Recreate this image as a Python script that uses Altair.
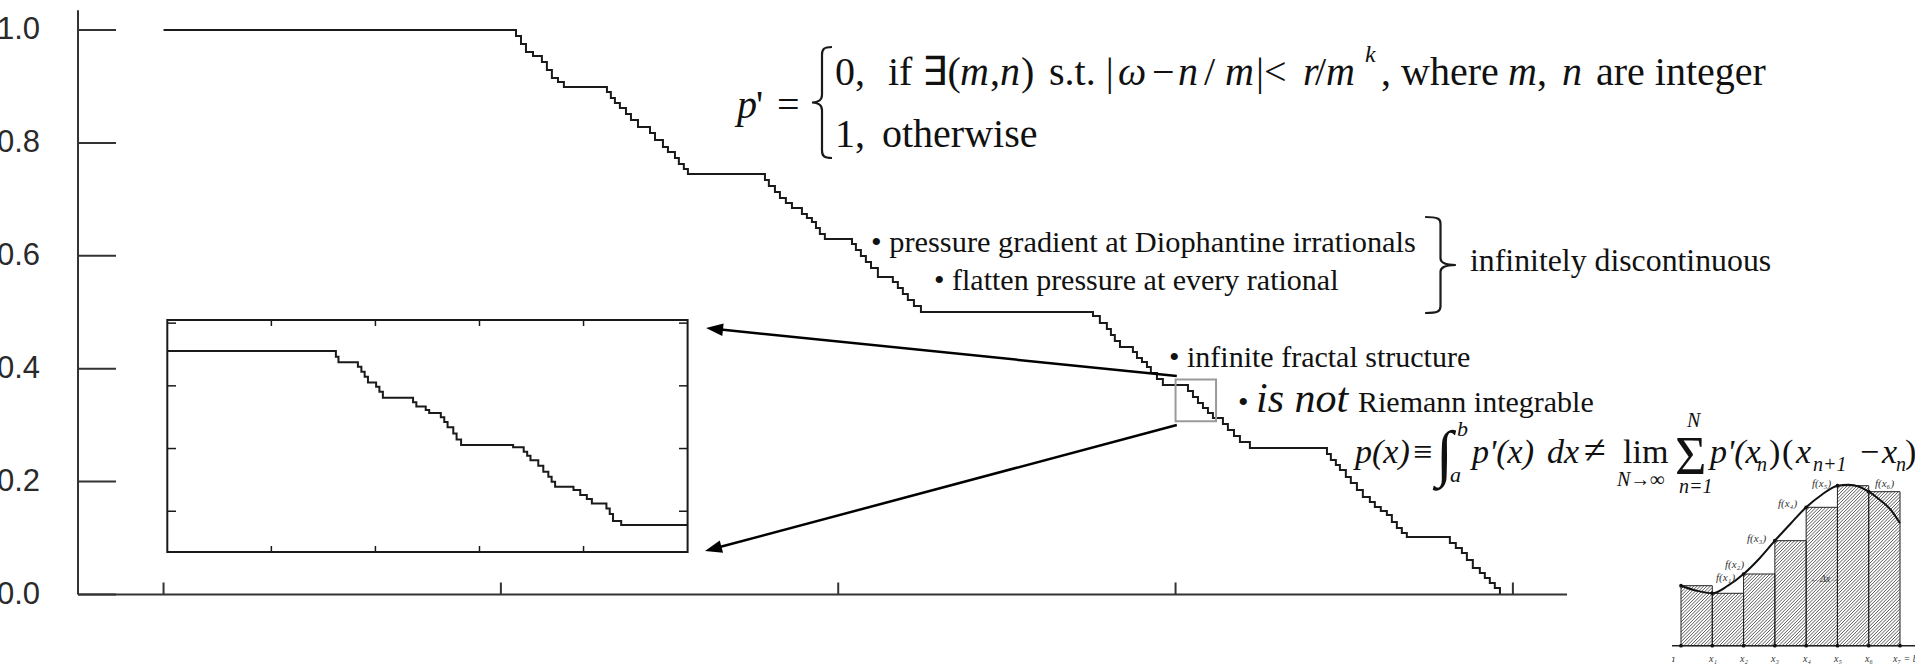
import altair as alt
import pandas as pd

SERIF = "Liberation Serif"
SANS = "Liberation Sans"
INK = "#1a1a1a"

# ---------------- main staircase p(x) (level starting at each x) ----------------
step_x = [0.0, 0.2612, 0.2649, 0.2686, 0.2738, 0.2804, 0.2841, 0.2878, 0.2923, 0.2967,
          0.3286, 0.3315, 0.3345, 0.3382, 0.3427, 0.3464, 0.3516, 0.3605, 0.3642, 0.3701,
          0.3738, 0.3790, 0.3819, 0.3856, 0.3886,
          0.4457, 0.4486, 0.4531, 0.4568, 0.4612, 0.4657, 0.4731, 0.4768, 0.4805, 0.4835,
          0.4864, 0.4901,
          0.5102, 0.5131, 0.5168, 0.5205, 0.5243, 0.5294,
          0.5405, 0.5442, 0.5479, 0.5516, 0.5561, 0.5613,
          0.6888, 0.6939, 0.6991, 0.7021, 0.7050, 0.7088, 0.7184, 0.7214, 0.7251, 0.7288,
          0.7317, 0.7362, 0.7406,
          0.7592, 0.7629, 0.7666, 0.7703, 0.7740, 0.7777, 0.7851, 0.7888, 0.7933, 0.7977,
          0.8051,
          0.8622, 0.8651, 0.8688, 0.8718, 0.8762, 0.8799, 0.8844, 0.8888, 0.8940, 0.8977,
          0.9021, 0.9066, 0.9103, 0.9140, 0.9177, 0.9214,
          0.9533, 0.9577, 0.9622, 0.9659, 0.9703, 0.9755, 0.9792, 0.9829, 0.9866, 0.9904]
step_p = [1.0, 0.9894, 0.9752, 0.9610, 0.9539, 0.9433, 0.9292, 0.9150, 0.9079, 0.8990,
          0.8902, 0.8795, 0.8707, 0.8618, 0.8512, 0.8406, 0.8282, 0.8176, 0.8051, 0.7927,
          0.7839, 0.7732, 0.7626, 0.7538, 0.7449,
          0.7343, 0.7237, 0.7130, 0.7024, 0.6936, 0.6847, 0.6741, 0.6670, 0.6599, 0.6493,
          0.6386, 0.6298,
          0.6209, 0.6103, 0.5997, 0.5890, 0.5784, 0.5624,
          0.5536, 0.5429, 0.5323, 0.5217, 0.5111, 0.5004,
          0.4934, 0.4810, 0.4703, 0.4597, 0.4491, 0.4384, 0.4296, 0.4190, 0.4119, 0.4030,
          0.3924, 0.3818, 0.3711,
          0.3605, 0.3499, 0.3392, 0.3304, 0.3215, 0.3127, 0.3020, 0.2914, 0.2808, 0.2702,
          0.2595,
          0.2489, 0.2383, 0.2294, 0.2206, 0.2081, 0.1975, 0.1851, 0.1727, 0.1639, 0.1550,
          0.1479, 0.1408, 0.1284, 0.1178, 0.1089, 0.1019,
          0.0912, 0.0823, 0.0735, 0.0611, 0.0469, 0.0381, 0.0292, 0.0204, 0.0115, 0.0]

# ---------------- magnified section of the staircase ----------------
inset_x = [0.7500, 0.75972, 0.75987, 0.76099, 0.76119, 0.76138, 0.76157, 0.76204, 0.76223, 0.76243,
           0.76417, 0.76436, 0.76490, 0.76510, 0.76577, 0.76597, 0.76616, 0.76649, 0.76668, 0.76694,
           0.76994, 0.77055, 0.77075, 0.77094, 0.77139, 0.77168, 0.77197, 0.77216, 0.77236, 0.77342,
           0.77381, 0.77419, 0.77448, 0.77532, 0.77551, 0.77570, 0.77617, 0.7800]
inset_p = [0.3711, 0.3693, 0.3675, 0.3661, 0.3645, 0.3629, 0.3611, 0.3597, 0.3581, 0.3562,
           0.3548, 0.3534, 0.3523, 0.3513, 0.3500, 0.3485, 0.3468, 0.3448, 0.3429, 0.3411,
           0.3404, 0.3390, 0.3377, 0.3363, 0.3345, 0.3326, 0.3310, 0.3294, 0.3278, 0.3268,
           0.3252, 0.3239, 0.3225, 0.3209, 0.3191, 0.3169, 0.3156, 0.3156]

# axis ticks
y_ticks = [0.0, 0.2, 0.4, 0.6, 0.8, 1.0]
x_ticks = [0.0, 0.25, 0.5, 0.75, 1.0]
inset_x_ticks = [0.756, 0.762, 0.768, 0.774]
inset_y_ticks = [0.32, 0.34, 0.36, 0.38]

# window that the inset magnifies
zoom_x = [0.750, 0.780]
zoom_p = [0.307, 0.381]

# ---------------- Riemann-sum sketch ----------------
riemann_edges = [0, 1, 2, 3, 4, 5, 6, 7]
riemann_f = [3.0, 2.62, 3.585, 5.25, 6.92, 8.0, 7.70]
curve_x = [0, 0.5, 1.0, 1.5, 2.0, 2.5, 3.0, 3.5, 4.0, 4.5, 5.0, 5.35, 5.7, 6.0, 6.35, 6.7, 7.0]
curve_f = [3.0, 2.75, 2.62, 3.0, 3.585, 4.35, 5.25, 6.1, 6.92, 7.55, 8.0, 8.05, 7.95, 7.70, 7.3, 6.8, 6.12]

# ---------------- scales ----------------
X_LO, X_HI, P_TOP = -0.0634, 1.0401, 1.035
xs = alt.Scale(domain=[X_LO, X_HI], range=[78, 1567], nice=False, zero=False)
ys = alt.Scale(domain=[0, P_TOP], range=[594.5, 10.3], nice=False, zero=False)
xi = alt.Scale(domain=zoom_x, range=[167.3, 687.6], nice=False, zero=False)
yi = alt.Scale(domain=zoom_p, range=[552, 320], nice=False, zero=False)
RX0, RX1, RY0, RY1 = 1681, 1900, 645.7, 445.7
rx = alt.Scale(domain=[0, 7], range=[RX0, RX1], nice=False, zero=False)
ry = alt.Scale(domain=[0, 10], range=[RY0, RY1], nice=False, zero=False)


def X(f, s):
    return alt.X(f, type="quantitative", scale=s, axis=None)


def Y(f, s):
    return alt.Y(f, type="quantitative", scale=s, axis=None)


def PX(f):
    return alt.X(f, type="quantitative", scale=None, axis=None)


def PY(f):
    return alt.Y(f, type="quantitative", scale=None, axis=None)


layers = []

# staircase
stairs = pd.DataFrame({"x": step_x, "p": step_p})
layers.append(alt.Chart(stairs).mark_line(interpolate="step-after", color=INK, strokeWidth=2)
              .encode(x=X("x", xs), y=Y("p", ys)))

# axis lines
layers.append(alt.Chart(pd.DataFrame({"x": [X_LO], "x2": [X_HI], "p": [0.0]}))
              .mark_rule(color="#333", strokeWidth=2)
              .encode(x=X("x", xs), x2="x2", y=Y("p", ys)))
layers.append(alt.Chart(pd.DataFrame({"x": [X_LO], "p": [0.0], "p2": [P_TOP]}))
              .mark_rule(color="#333", strokeWidth=2)
              .encode(x=X("x", xs), y=Y("p", ys), y2="p2"))
# inward ticks
layers.append(alt.Chart(pd.DataFrame({"x": [X_LO] * len(y_ticks), "p": y_ticks}))
              .mark_rule(color="#333", strokeWidth=2)
              .encode(x=X("x", xs), x2=alt.value(116), y=Y("p", ys)))
layers.append(alt.Chart(pd.DataFrame({"x": x_ticks, "p": [0.0] * len(x_ticks)}))
              .mark_rule(color="#333", strokeWidth=2)
              .encode(x=X("x", xs), y=Y("p", ys), y2=alt.value(582.5)))
# tick labels (the leftmost digit runs past the page edge)
layers.append(alt.Chart(pd.DataFrame({"p": y_ticks}))
              .mark_text(font=SANS, fontSize=31, align="right", baseline="middle", color="#2a2a2a")
              .encode(x=alt.value(40), y=Y("p", ys), text=alt.Text("p:Q", format=".1f")))

# zoom window on the staircase
layers.append(alt.Chart(pd.DataFrame({"x": [zoom_x[0]], "x2": [zoom_x[1]], "p": [zoom_p[0]], "p2": [zoom_p[1]]}))
              .mark_rect(fillOpacity=0, stroke="#9a9a9a", strokeWidth=2)
              .encode(x=X("x", xs), x2="x2", y=Y("p", ys), y2="p2"))

# inset frame, ticks and curve
layers.append(alt.Chart(pd.DataFrame({"x": [zoom_x[0]], "x2": [zoom_x[1]], "p": [zoom_p[0]], "p2": [zoom_p[1]]}))
              .mark_rect(fillOpacity=0, stroke=INK, strokeWidth=2)
              .encode(x=X("x", xi), x2="x2", y=Y("p", yi), y2="p2"))
tick_x = pd.DataFrame({"x": inset_x_ticks})
layers.append(alt.Chart(tick_x).mark_rule(color=INK, strokeWidth=1.5)
              .encode(x=X("x", xi), y=alt.value(320), y2=alt.value(326)))
layers.append(alt.Chart(tick_x).mark_rule(color=INK, strokeWidth=1.5)
              .encode(x=X("x", xi), y=alt.value(552), y2=alt.value(546)))
tick_y = pd.DataFrame({"p": inset_y_ticks})
layers.append(alt.Chart(tick_y).mark_rule(color=INK, strokeWidth=1.5)
              .encode(y=Y("p", yi), x=alt.value(167.3), x2=alt.value(176)))
layers.append(alt.Chart(tick_y).mark_rule(color=INK, strokeWidth=1.5)
              .encode(y=Y("p", yi), x=alt.value(687.6), x2=alt.value(679)))
layers.append(alt.Chart(pd.DataFrame({"x": inset_x, "p": inset_p}))
              .mark_line(interpolate="step-after", color=INK, strokeWidth=2)
              .encode(x=X("x", xi), y=Y("p", yi)))

# arrows from the zoom window to the inset
arrow_lines = pd.DataFrame({"x": [1176.8, 1176.8], "y": [376, 425], "x2": [716, 715], "y2": [329.1, 548.3]})
layers.append(alt.Chart(arrow_lines).mark_rule(color="black", strokeWidth=2.5)
              .encode(x=PX("x"), y=PY("y"), x2="x2:Q", y2="y2:Q"))
ARROW = "M0,-1L0.75,1L-0.75,1Z"
arrow_heads = pd.DataFrame({"x": [714.5, 713.2], "y": [328.9, 548.8], "a": [275.8, 255.0]})
layers.append(alt.Chart(arrow_heads).mark_point(shape=ARROW, filled=True, size=289, color="black", opacity=1)
              .encode(x=PX("x"), y=PY("y"), angle=alt.Angle("a:Q", scale=None)))

# curly braces
LEFT_BRACE = ("M0.18,-1 C0.03,-1 0,-0.96 0,-0.86 L0,-0.14 C0,-0.05 -0.06,0 -0.18,0 "
              "C-0.06,0 0,0.05 0,0.14 L0,0.86 C0,0.96 0.03,1 0.18,1")
RIGHT_BRACE = ("M-0.32,-1 C-0.05,-1 0,-0.96 0,-0.86 L0,-0.14 C0,-0.05 0.1,0 0.32,0 "
               "C0.1,0 0,0.05 0,0.14 L0,0.86 C0,0.96 -0.05,1 -0.32,1")
layers.append(alt.Chart(pd.DataFrame({"x": [822], "y": [102.5]}))
              .mark_point(shape=LEFT_BRACE, filled=False, size=111 ** 2, color=INK, strokeWidth=2.2, opacity=1)
              .encode(x=PX("x"), y=PY("y")))
layers.append(alt.Chart(pd.DataFrame({"x": [1440.5], "y": [265]}))
              .mark_point(shape=RIGHT_BRACE, filled=False, size=96 ** 2, color=INK, strokeWidth=2.2, opacity=1)
              .encode(x=PX("x"), y=PY("y")))

# Riemann sketch: diagonal hatching inside each bar, bars, curve, dots
PX_PER_X = (RX1 - RX0) / 7
PX_PER_H = (RY0 - RY1) / 10
hatch = []
for i, H in enumerate(riemann_f):
    left, right = riemann_edges[i], riemann_edges[i + 1]
    d = left * PX_PER_X - H * PX_PER_H
    while d < right * PX_PER_X:
        xa = max(left, d / PX_PER_X)
        xb = min(right, (d + H * PX_PER_H) / PX_PER_X)
        if xb > xa:
            hatch.append({"x": xa, "h": (xa * PX_PER_X - d) / PX_PER_H,
                          "x2": xb, "h2": (xb * PX_PER_X - d) / PX_PER_H})
        d += 3.3
layers.append(alt.Chart(pd.DataFrame(hatch)).mark_rule(color="#4a4a4a", strokeWidth=0.9)
              .encode(x=X("x", rx), y=Y("h", ry), x2="x2", y2="h2"))
bars = pd.DataFrame({"x": riemann_edges[:-1], "x2": riemann_edges[1:], "h": riemann_f})
layers.append(alt.Chart(bars).mark_rect(fillOpacity=0, stroke="#222", strokeWidth=1)
              .encode(x=X("x", rx), x2="x2", y=Y("h", ry), y2=alt.datum(0)))
layers.append(alt.Chart(pd.DataFrame({"x": [-0.3], "x2": [7.6], "h": [0.0]}))
              .mark_rule(color="#222", strokeWidth=1.5)
              .encode(x=X("x", rx), x2="x2", y=Y("h", ry)))
layers.append(alt.Chart(pd.DataFrame({"x": curve_x, "h": curve_f}))
              .mark_line(interpolate="monotone", color="#111", strokeWidth=2)
              .encode(x=X("x", rx), y=Y("h", ry)))
dots = pd.DataFrame({"x": riemann_edges[:-1] + riemann_edges, "h": riemann_f + [0.0] * len(riemann_edges)})
layers.append(alt.Chart(dots).mark_circle(size=14, color="#111", opacity=1)
              .encode(x=X("x", rx), y=Y("h", ry)))


def text_layer(rows, italic=False, font=SERIF, align="left", color="#111"):
    df = pd.DataFrame(rows, columns=["t", "x", "y", "s"])
    return (alt.Chart(df)
            .mark_text(font=font, fontStyle="italic" if italic else "normal", align=align,
                       baseline="alphabetic", color=color)
            .encode(x=PX("x"), y=PY("y"), text="t:N", size=alt.Size("s:Q", scale=None, legend=None)))


# definition of p'
layers.append(text_layer([
    ("'", 756, 118, 40), ("=", 777, 118, 40),
    ("0,", 835, 85, 40), ("if ∃(", 888, 85, 40), (",", 990, 85, 40), (")", 1021, 85, 40),
    ("s.t. |", 1049, 85, 40), ("−", 1152, 85, 40), ("/", 1204, 85, 40), ("|<", 1256, 85, 40),
    ("/", 1315, 85, 40), (",", 1381, 85, 40), ("where", 1401, 85, 40), (",", 1537, 85, 40),
    ("are integer", 1596, 85, 40),
    ("1,", 835, 147, 40), ("otherwise", 882, 147, 40),
]))
layers.append(text_layer([
    ("p", 737, 118, 40), ("m", 960, 85, 40), ("n", 1000, 85, 40), ("ω", 1118, 85, 40),
    ("n", 1178, 85, 40), ("m", 1225, 85, 40), ("r", 1303, 85, 40), ("m", 1326, 85, 40),
    ("k", 1365, 62, 24), ("m", 1508, 85, 40), ("n", 1562, 85, 40),
], italic=True))

# bullet notes
layers.append(text_layer([
    ("• pressure gradient at Diophantine irrationals", 871, 252, 30.4),
    ("• flatten pressure at every rational", 934, 290, 30),
    ("infinitely discontinuous", 1470, 271, 31.8),
    ("• infinite fractal structure", 1169, 367, 30),
    ("•", 1238, 412, 30),
    ("Riemann integrable", 1358, 412, 30),
]))
layers.append(text_layer([("is not", 1256, 412, 42)], italic=True))

# integral vs. Riemann sum
layers.append(text_layer([
    ("≡", 1413, 463, 34), ("∫", 1436, 474, 62), ("≠", 1584, 463, 40), ("lim", 1623, 463, 34),
    ("Σ", 1675, 474, 54), (")", 1769, 463, 34), ("(", 1782, 463, 34),
    ("−", 1860, 463, 34), (")", 1905, 463, 34),
]))
layers.append(text_layer([
    ("p(x)", 1355, 463, 34), ("b", 1457, 436, 22), ("a", 1450, 482, 22), ("p'(x)", 1472, 463, 34),
    ("dx", 1547, 463, 34), ("N→∞", 1617, 486, 20), ("N", 1687, 427, 20), ("n=1", 1679, 493, 20),
    ("p'(x", 1710, 463, 34), ("n", 1757, 471, 20), ("x", 1796, 463, 34), ("n+1", 1813, 471, 20),
    ("x", 1882, 463, 34), ("n", 1896, 471, 20),
], italic=True))

# Riemann sketch labels
layers.append(text_layer([
    ("f(x₀)", 1651, 581, 11), ("f(x₁)", 1716, 581, 11), ("f(x₂)", 1725, 568, 11),
    ("f(x₃)", 1747, 542, 11), ("f(x₄)", 1778, 507, 11), ("f(x₅)", 1812, 487, 11),
    ("f(x₆)", 1875, 487, 11),
    ("x₀ = a", 1650, 662, 10), ("x₁", 1709, 662, 10), ("x₂", 1740, 662, 10), ("x₃", 1771, 662, 10),
    ("x₄", 1803, 662, 10), ("x₅", 1834, 662, 10), ("x₆", 1865, 662, 10), ("x₇ = b", 1893, 662, 10),
    ("←Δx→", 1810, 582, 10),
], italic=True, color="#333"))
# the sketch is cropped on its left side
layers.append(alt.Chart(pd.DataFrame({"x": [1600], "x2": [1672], "y": [565], "y2": [665]}))
              .mark_rect(color="white")
              .encode(x=PX("x"), x2="x2:Q", y=PY("y"), y2="y2:Q"))

chart = (alt.layer(*layers)
         .resolve_scale(x="independent", y="independent", size="independent", angle="independent")
         .properties(width=1915, height=665, autosize=alt.AutoSizeParams(type="none"),
                     padding={"left": 0, "right": 0, "top": 0, "bottom": 0}, background="white")
         .configure_view(stroke=None))

chart.save("out.html", embed_options={"renderer": "svg", "actions": False})
